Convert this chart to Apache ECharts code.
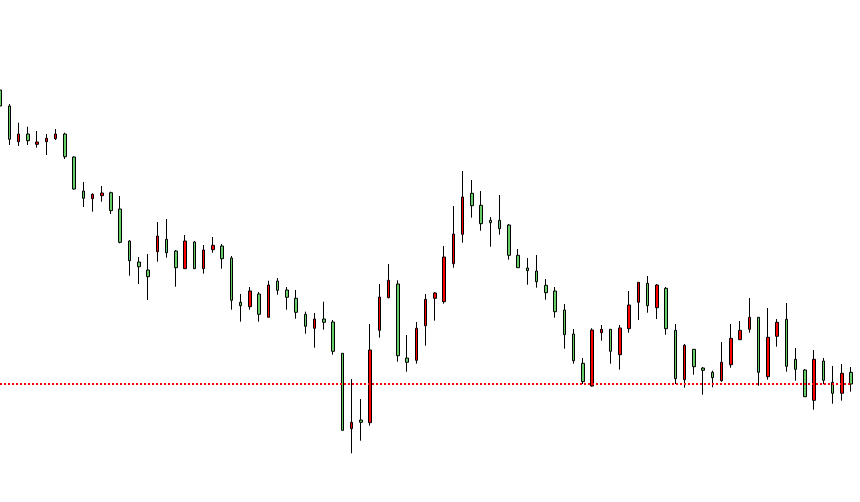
<!DOCTYPE html>
<html>
<head>
<meta charset="utf-8">
<script src="https://cdn.jsdelivr.net/npm/echarts@6/dist/echarts.min.js"></script>
<style>
html,body{margin:0;padding:0;background:#fff;}
#chart{width:860px;height:502px;}
</style>
</head>
<body>
<div id="chart"></div>
<script>
// Bar index (category) labels
const categories = Array.from({length: 93}, (_, i) => String(i + 1));
// [open, close, low, high]
const opens = [412,396,360.3,368,357.7,360.3,363.3,368,345,311,303.3,306.3,309.3,293,261,240,232,250.3,262.7,251,233.3,260,233.3,252.3,256,244,199.7,195.3,208,184.7,221,212,203.7,187.7,173.7,183,180,148.7,73.3,82,79.3,171.7,204.3,218,144,141.7,176.3,203.7,200.3,238.3,267.7,308.7,296.7,281.7,281.7,277,246.7,234,231,216.7,211,192,168,138.7,116,169.3,172.7,147.3,173.3,199.7,218.7,194.3,213.7,171.7,122.3,152.7,134,129.7,121.3,137.3,162.3,172.7,184.7,125.3,165.7,182.7,142.7,132,101.7,141,119.7,108.7,129.7];
const closes = [396,362.7,368,361.3,360,363.7,368,345.3,313,303.7,307.7,309,291.3,259.7,241.3,235.3,225.3,266,249.3,234.3,261,233.3,252,256.7,243.3,201.7,196.3,211,187.7,217,211.7,204.7,189.7,175.7,183,179.7,150.7,71.7,79.7,79.7,152,205,221.7,146.3,139.7,173.7,202.7,209,245,268,305,296.3,278.3,279.3,273.3,246.7,234.3,231.3,220.3,209.3,190.3,167.3,141.3,120.3,172,172.7,150.7,174,197,219.7,196.3,217,173.3,123.3,156.7,135.3,131.7,124.3,139.7,163.7,171.7,184.7,129.7,164.7,179.7,135.7,132.7,105.3,142.7,121.7,108.7,128.7,118];
const lows = [394,357,356,357,354.3,347,362,343,312.3,295,290.3,300.3,288,258.7,226.3,218,202,240.3,244.3,215.3,233.3,233.3,228.3,249.3,233.3,192.3,180.3,192.3,180.3,184.7,207.3,192.3,183.3,168.3,154.3,172.3,147.3,71.7,48.7,61.3,76.3,164.3,203.7,140.3,130.3,138.3,156.3,181.3,198.3,234.3,259.3,284.3,271.3,255.3,267.3,242.3,234.3,217.3,214.3,202.3,184.3,153.3,138.3,118,115.3,161.3,138.3,132.3,169.3,182,189.3,183,167.3,118,114.3,127.3,107.3,114.7,120.3,134.3,162.3,169.3,116.3,122.3,155.3,130.3,121.3,105.3,92.3,117.7,98.3,101.3,110.3];
const highs = [415,398,379.3,375.3,371,368,373,369.3,345.7,320,308.7,316,310.3,306,261.7,245,248,280,283,252,267,261,257,265,258,246,208,215,210,221.3,224,215,212,190.3,189,200.3,182,148.7,123,103,178,218,238,221.7,167,180,208,210,256,296,331,322,311,285,307,278,253,244,247,223,215,198,173,144,173.7,177,172.7,177,211,219.7,226,218,215,178,158,152.7,135,131.3,160,178,181,204,184.7,194,183,199,154,133,152,144,136,138,135];
// Horizontal reference level (red dotted line)
const refLevel = [118];

const ohlc = categories.map((_, i) => [opens[i], closes[i], lows[i], highs[i]]);

const chart = echarts.init(document.getElementById('chart'), null, {renderer: 'canvas'});
chart.setOption({
  animation: false,
  backgroundColor: '#ffffff',
  grid: {left: 0, right: 9, top: 0, bottom: 0},
  xAxis: {
    type: 'category',
    data: categories,
    boundaryGap: false,
    show: false
  },
  yAxis: {
    type: 'value',
    min: 0,
    max: 502,
    show: false,
    splitLine: {show: false}
  },
  series: [{
    type: 'candlestick',
    data: ohlc,
    barWidth: 3,
    clip: false,
    itemStyle: {
      color: '#ff0000',
      color0: '#66cc66',
      borderColor: '#000000',
      borderColor0: '#000000',
      borderWidth: 1
    },
    markLine: {
      silent: true,
      symbol: ['none', 'none'],
      label: {show: false},
      lineStyle: {color: '#ff0000', width: 2, type: [2, 2]},
      data: refLevel.map(v => ({yAxis: v}))
    }
  }]
});
</script>
</body>
</html>
